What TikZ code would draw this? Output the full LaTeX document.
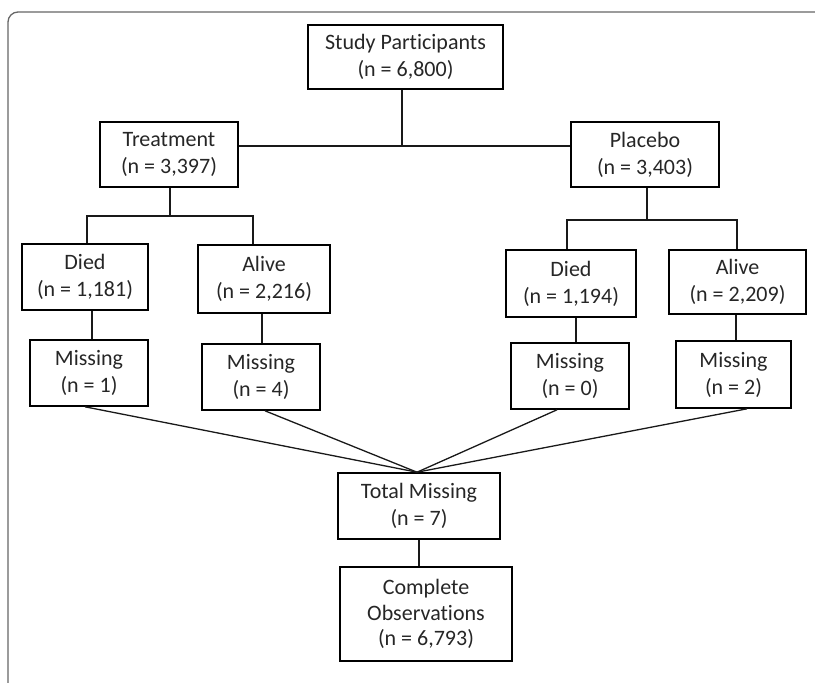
\documentclass[tikz,border=0pt]{standalone}
\usepackage{fontspec}
\setmainfont{Carlito}[Ligatures={NoCommon}]
\usepackage{tikz}

\begin{document}
\begin{tikzpicture}[x=1pt, y=-1pt,
	every node/.style={font=\fontsize{22}{27}\selectfont, text=black!85},
	box/.style={draw=black, line width=1.6pt, align=center, inner sep=0pt},
	link/.style={draw=black!90, line width=1.3pt}]
	\useasboundingbox (0,0) rectangle (815,683);
	\draw[black!60, line width=1.3pt, rounded corners=10pt] (8,690) -- (8,12) -- (822,12);
	% boxes
	\node[box, minimum width=195pt, minimum height=64pt] (sp) at (405.5,57) {Study Participants\\(n = 6,800)};
	\node[box, minimum width=138pt, minimum height=65pt] (tr) at (169,154.5) {Treatment\\(n = 3,397)};
	\node[box, minimum width=148pt, minimum height=65pt] (pl) at (645,154.5) {Placebo\\(n = 3,403)};
	\node[box, minimum width=126pt, minimum height=66pt] (d1) at (85,277) {Died\\(n = 1,181)};
	\node[box, minimum width=132pt, minimum height=68pt] (a1) at (264,279) {Alive\\(n = 2,216)};
	\node[box, minimum width=130pt, minimum height=67pt] (d2) at (571,283.5) {Died\\(n = 1,194)};
	\node[box, minimum width=137pt, minimum height=64pt] (a2) at (737.5,282) {Alive\\(n = 2,209)};
	\node[box, minimum width=118pt, minimum height=66pt] (m1) at (89,373) {Missing\\(n = 1)};
	\node[box, minimum width=118pt, minimum height=66pt] (m4) at (261,377) {Missing\\(n = 4)};
	\node[box, minimum width=118pt, minimum height=66pt] (m0) at (570,376) {Missing\\(n = 0)};
	\node[box, minimum width=115pt, minimum height=67pt] (m2) at (733.5,374.5) {Missing\\(n = 2)};
	\node[box, minimum width=162pt, minimum height=66pt] (tm) at (419,506) {Total Missing\\(n = 7)};
	\node[box, minimum width=172pt, minimum height=94pt, font=\fontsize{22}{25.5}\selectfont] (co) at (426,614) {Complete\\Observations\\(n = 6,793)};
	% junctions
	\coordinate (j) at (402,146);
	\coordinate (tl) at (87,216);
	\coordinate (tg) at (253,216);
	\coordinate (pj) at (567,220);
	\coordinate (pg) at (737,220);
	% connectors
	\draw[link] ([xshift=-3.5pt]sp.south) -- (j);
	\draw[link] (tr.east |- j) -- (pl.west |- j);
	\draw[link] ([xshift=1pt]tr.south) -- ([xshift=1pt]tr.south |- tl);
	\draw[link] (d1.north -| tl) -- (tl) -- (tg) -- (a1.north -| tg);
	\draw[link] ([xshift=2pt]pl.south) -- ([xshift=2pt]pl.south |- pj);
	\draw[link] (d2.north -| pj) -- (pj) -- (pg) -- (a2.north -| pg);
	\draw[link] ([xshift=7pt]d1.south) -- ([xshift=7pt]d1.south |- m1.north);
	\draw[link] ([xshift=-2pt]a1.south) -- ([xshift=-2pt]a1.south |- m4.north);
	\draw[link] ([xshift=5pt]d2.south) -- ([xshift=5pt]d2.south |- m0.north);
	\draw[link] ([xshift=-1.5pt]a2.south) -- ([xshift=-1.5pt]a2.south |- m2.north);
	\foreach \m/\dx in {m1/-4, m4/4, m0/-13, m2/13.5} {\draw[link] ([xshift=\dx pt]\m.south) -- ([xshift=-2pt]tm.north);}
	\draw[link] (tm.south) -- (tm.south |- co.north);
\end{tikzpicture}
\end{document}
